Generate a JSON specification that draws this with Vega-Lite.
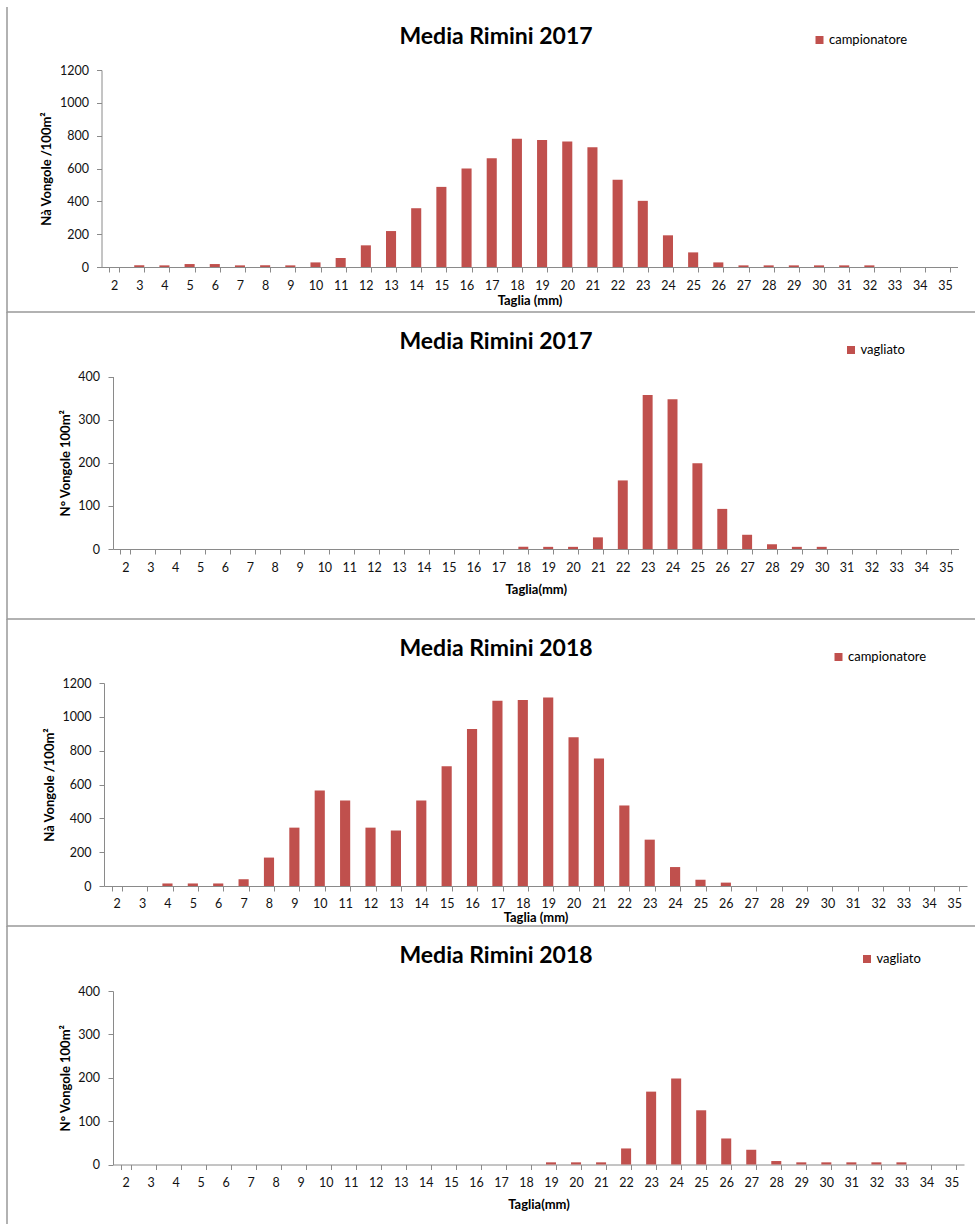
{
  "$schema": "https://vega.github.io/schema/vega-lite/v6.json",
  "padding": {"left": 6, "top": 6, "right": 0, "bottom": 0},
  "background": "white",
  "spacing": 0,
  "bounds": "flush",
  "resolve": {"scale": {"color": "independent", "x": "independent", "y": "independent"}, "legend": {"color": "independent"}},
  "config": {
    "font": "Lato",
    "axis": {
      "domainColor": "#8a8a8a",
      "tickColor": "#8a8a8a",
      "domainWidth": 1,
      "tickWidth": 1,
      "tickSize": 5,
      "grid": false,
      "labelFont": "Lato",
      "labelFontSize": 12.5,
      "labelColor": "#111111",
      "titleFont": "Lato",
      "titleFontSize": 13,
      "titleFontWeight": "bold",
      "titleColor": "#000000"
    },
    "legend": {
      "orient": "none",
      "title": null,
      "padding": 0,
      "symbolType": "square",
      "symbolSize": 64,
      "symbolStrokeWidth": 0,
      "symbolOpacity": 1,
      "labelFont": "Lato",
      "labelFontSize": 13,
      "labelColor": "#000000",
      "labelOffset": 3
    },
    "title": {
      "font": "Lato",
      "fontSize": 23,
      "fontWeight": "bold",
      "color": "#000000",
      "anchor": "middle",
      "frame": "group",
      "dx": 5
    },
    "bar": {"color": "#C0504D"}
  },
  "vconcat": [
    {
      "width": 968,
      "height": 305,
      "view": {"stroke": "#999999", "strokeWidth": 1.5, "strokeDash": [0, 1273, 1400]},
      "title": {"text": "Media Rimini 2017", "offset": -42},
      "data": {"values": [
        {"taglia": 2, "n": 0, "serie": "campionatore"},
        {"taglia": 3, "n": 10, "serie": "campionatore"},
        {"taglia": 4, "n": 10, "serie": "campionatore"},
        {"taglia": 5, "n": 18, "serie": "campionatore"},
        {"taglia": 6, "n": 18, "serie": "campionatore"},
        {"taglia": 7, "n": 10, "serie": "campionatore"},
        {"taglia": 8, "n": 10, "serie": "campionatore"},
        {"taglia": 9, "n": 10, "serie": "campionatore"},
        {"taglia": 10, "n": 28, "serie": "campionatore"},
        {"taglia": 11, "n": 55, "serie": "campionatore"},
        {"taglia": 12, "n": 132, "serie": "campionatore"},
        {"taglia": 13, "n": 219, "serie": "campionatore"},
        {"taglia": 14, "n": 358, "serie": "campionatore"},
        {"taglia": 15, "n": 488, "serie": "campionatore"},
        {"taglia": 16, "n": 600, "serie": "campionatore"},
        {"taglia": 17, "n": 662, "serie": "campionatore"},
        {"taglia": 18, "n": 781, "serie": "campionatore"},
        {"taglia": 19, "n": 773, "serie": "campionatore"},
        {"taglia": 20, "n": 765, "serie": "campionatore"},
        {"taglia": 21, "n": 730, "serie": "campionatore"},
        {"taglia": 22, "n": 531, "serie": "campionatore"},
        {"taglia": 23, "n": 403, "serie": "campionatore"},
        {"taglia": 24, "n": 193, "serie": "campionatore"},
        {"taglia": 25, "n": 89, "serie": "campionatore"},
        {"taglia": 26, "n": 28, "serie": "campionatore"},
        {"taglia": 27, "n": 10, "serie": "campionatore"},
        {"taglia": 28, "n": 10, "serie": "campionatore"},
        {"taglia": 29, "n": 10, "serie": "campionatore"},
        {"taglia": 30, "n": 10, "serie": "campionatore"},
        {"taglia": 31, "n": 10, "serie": "campionatore"},
        {"taglia": 32, "n": 10, "serie": "campionatore"},
        {"taglia": 33, "n": 0, "serie": "campionatore"},
        {"taglia": 34, "n": 0, "serie": "campionatore"},
        {"taglia": 35, "n": 0, "serie": "campionatore"}
      ]},
      "mark": {"type": "bar"},
      "encoding": {
        "x": {
          "field": "taglia", "type": "ordinal",
          "scale": {"range": [94.5, 950.5], "paddingInner": 0.6, "paddingOuter": 0.3},
          "axis": {"title": "Taglia (mm)", "labelAngle": 0, "tickBand": "extent", "offset": -45, "labelPadding": 7, "titlePadding": 3}
        },
        "y": {
          "field": "n", "type": "quantitative",
          "scale": {"domain": [0, 1200], "range": [260, 63], "nice": false},
          "axis": {"title": "Nà Vongole /100m²", "values": [0, 200, 400, 600, 800, 1000, 1200], "format": "d", "offset": -94.5, "labelPadding": 8, "titlePadding": 6.5}
        },
        "color": {
          "field": "serie", "type": "nominal",
          "scale": {"range": ["#C0504D"]},
          "legend": {"legendX": 806, "legendY": 26.5}
        }
      }
    },
    {
      "width": 968,
      "height": 307,
      "view": {"stroke": "#999999", "strokeWidth": 1.5, "strokeDash": [0, 1275, 1400]},
      "title": {"text": "Media Rimini 2017", "offset": -42},
      "data": {"values": [
        {"taglia": 2, "n": 0, "serie": "vagliato"},
        {"taglia": 3, "n": 0, "serie": "vagliato"},
        {"taglia": 4, "n": 0, "serie": "vagliato"},
        {"taglia": 5, "n": 0, "serie": "vagliato"},
        {"taglia": 6, "n": 0, "serie": "vagliato"},
        {"taglia": 7, "n": 0, "serie": "vagliato"},
        {"taglia": 8, "n": 0, "serie": "vagliato"},
        {"taglia": 9, "n": 0, "serie": "vagliato"},
        {"taglia": 10, "n": 0, "serie": "vagliato"},
        {"taglia": 11, "n": 0, "serie": "vagliato"},
        {"taglia": 12, "n": 0, "serie": "vagliato"},
        {"taglia": 13, "n": 0, "serie": "vagliato"},
        {"taglia": 14, "n": 0, "serie": "vagliato"},
        {"taglia": 15, "n": 0, "serie": "vagliato"},
        {"taglia": 16, "n": 0, "serie": "vagliato"},
        {"taglia": 17, "n": 0, "serie": "vagliato"},
        {"taglia": 18, "n": 5, "serie": "vagliato"},
        {"taglia": 19, "n": 5, "serie": "vagliato"},
        {"taglia": 20, "n": 5, "serie": "vagliato"},
        {"taglia": 21, "n": 27, "serie": "vagliato"},
        {"taglia": 22, "n": 159, "serie": "vagliato"},
        {"taglia": 23, "n": 357, "serie": "vagliato"},
        {"taglia": 24, "n": 347, "serie": "vagliato"},
        {"taglia": 25, "n": 199, "serie": "vagliato"},
        {"taglia": 26, "n": 93, "serie": "vagliato"},
        {"taglia": 27, "n": 33, "serie": "vagliato"},
        {"taglia": 28, "n": 11, "serie": "vagliato"},
        {"taglia": 29, "n": 5, "serie": "vagliato"},
        {"taglia": 30, "n": 5, "serie": "vagliato"},
        {"taglia": 31, "n": 0, "serie": "vagliato"},
        {"taglia": 32, "n": 0, "serie": "vagliato"},
        {"taglia": 33, "n": 0, "serie": "vagliato"},
        {"taglia": 34, "n": 0, "serie": "vagliato"},
        {"taglia": 35, "n": 0, "serie": "vagliato"}
      ]},
      "mark": {"type": "bar"},
      "encoding": {
        "x": {
          "field": "taglia", "type": "ordinal",
          "scale": {"range": [106, 951.5], "paddingInner": 0.6, "paddingOuter": 0.3},
          "axis": {"title": "Taglia(mm)", "labelAngle": 0, "tickBand": "extent", "offset": -70, "labelPadding": 7.5, "titlePadding": 9}
        },
        "y": {
          "field": "n", "type": "quantitative",
          "scale": {"domain": [0, 400], "range": [237, 64.5], "nice": false},
          "axis": {"title": "N° Vongole 100m²", "values": [0, 100, 200, 300, 400], "format": "d", "offset": -106, "labelPadding": 8.5, "titlePadding": 5.5}
        },
        "color": {
          "field": "serie", "type": "nominal",
          "scale": {"range": ["#C0504D"]},
          "legend": {"legendX": 837.5, "legendY": 31.5}
        }
      }
    },
    {
      "width": 968,
      "height": 307,
      "view": {"stroke": "#999999", "strokeWidth": 1.5, "strokeDash": [0, 1275, 1400]},
      "title": {"text": "Media Rimini 2018", "offset": -42},
      "data": {"values": [
        {"taglia": 2, "n": 0, "serie": "campionatore"},
        {"taglia": 3, "n": 0, "serie": "campionatore"},
        {"taglia": 4, "n": 15, "serie": "campionatore"},
        {"taglia": 5, "n": 15, "serie": "campionatore"},
        {"taglia": 6, "n": 15, "serie": "campionatore"},
        {"taglia": 7, "n": 40, "serie": "campionatore"},
        {"taglia": 8, "n": 168, "serie": "campionatore"},
        {"taglia": 9, "n": 345, "serie": "campionatore"},
        {"taglia": 10, "n": 564, "serie": "campionatore"},
        {"taglia": 11, "n": 505, "serie": "campionatore"},
        {"taglia": 12, "n": 345, "serie": "campionatore"},
        {"taglia": 13, "n": 328, "serie": "campionatore"},
        {"taglia": 14, "n": 505, "serie": "campionatore"},
        {"taglia": 15, "n": 708, "serie": "campionatore"},
        {"taglia": 16, "n": 928, "serie": "campionatore"},
        {"taglia": 17, "n": 1095, "serie": "campionatore"},
        {"taglia": 18, "n": 1100, "serie": "campionatore"},
        {"taglia": 19, "n": 1115, "serie": "campionatore"},
        {"taglia": 20, "n": 880, "serie": "campionatore"},
        {"taglia": 21, "n": 754, "serie": "campionatore"},
        {"taglia": 22, "n": 476, "serie": "campionatore"},
        {"taglia": 23, "n": 274, "serie": "campionatore"},
        {"taglia": 24, "n": 112, "serie": "campionatore"},
        {"taglia": 25, "n": 37, "serie": "campionatore"},
        {"taglia": 26, "n": 20, "serie": "campionatore"},
        {"taglia": 27, "n": 0, "serie": "campionatore"},
        {"taglia": 28, "n": 0, "serie": "campionatore"},
        {"taglia": 29, "n": 0, "serie": "campionatore"},
        {"taglia": 30, "n": 0, "serie": "campionatore"},
        {"taglia": 31, "n": 0, "serie": "campionatore"},
        {"taglia": 32, "n": 0, "serie": "campionatore"},
        {"taglia": 33, "n": 0, "serie": "campionatore"},
        {"taglia": 34, "n": 0, "serie": "campionatore"},
        {"taglia": 35, "n": 0, "serie": "campionatore"}
      ]},
      "mark": {"type": "bar"},
      "encoding": {
        "x": {
          "field": "taglia", "type": "ordinal",
          "scale": {"range": [97, 960], "paddingInner": 0.6, "paddingOuter": 0.3},
          "axis": {"title": "Taglia (mm)", "labelAngle": 0, "tickBand": "extent", "offset": -40, "labelPadding": 6, "titlePadding": 1.5}
        },
        "y": {
          "field": "n", "type": "quantitative",
          "scale": {"domain": [0, 1200], "range": [267, 64], "nice": false},
          "axis": {"title": "Nà Vongole /100m²", "values": [0, 200, 400, 600, 800, 1000, 1200], "format": "d", "offset": -97, "labelPadding": 8, "titlePadding": 5.5}
        },
        "color": {
          "field": "serie", "type": "nominal",
          "scale": {"range": ["#C0504D"]},
          "legend": {"legendX": 825, "legendY": 31.5}
        }
      }
    },
    {
      "width": 968,
      "height": 298,
      "view": {"stroke": "#999999", "strokeWidth": 1.5, "strokeDash": [0, 2234, 400]},
      "title": {"text": "Media Rimini 2018", "offset": -42},
      "data": {"values": [
        {"taglia": 2, "n": 0, "serie": "vagliato"},
        {"taglia": 3, "n": 0, "serie": "vagliato"},
        {"taglia": 4, "n": 0, "serie": "vagliato"},
        {"taglia": 5, "n": 0, "serie": "vagliato"},
        {"taglia": 6, "n": 0, "serie": "vagliato"},
        {"taglia": 7, "n": 0, "serie": "vagliato"},
        {"taglia": 8, "n": 0, "serie": "vagliato"},
        {"taglia": 9, "n": 0, "serie": "vagliato"},
        {"taglia": 10, "n": 0, "serie": "vagliato"},
        {"taglia": 11, "n": 0, "serie": "vagliato"},
        {"taglia": 12, "n": 0, "serie": "vagliato"},
        {"taglia": 13, "n": 0, "serie": "vagliato"},
        {"taglia": 14, "n": 0, "serie": "vagliato"},
        {"taglia": 15, "n": 0, "serie": "vagliato"},
        {"taglia": 16, "n": 0, "serie": "vagliato"},
        {"taglia": 17, "n": 0, "serie": "vagliato"},
        {"taglia": 18, "n": 0, "serie": "vagliato"},
        {"taglia": 19, "n": 5, "serie": "vagliato"},
        {"taglia": 20, "n": 5, "serie": "vagliato"},
        {"taglia": 21, "n": 5, "serie": "vagliato"},
        {"taglia": 22, "n": 37, "serie": "vagliato"},
        {"taglia": 23, "n": 168, "serie": "vagliato"},
        {"taglia": 24, "n": 198, "serie": "vagliato"},
        {"taglia": 25, "n": 125, "serie": "vagliato"},
        {"taglia": 26, "n": 60, "serie": "vagliato"},
        {"taglia": 27, "n": 34, "serie": "vagliato"},
        {"taglia": 28, "n": 8, "serie": "vagliato"},
        {"taglia": 29, "n": 5, "serie": "vagliato"},
        {"taglia": 30, "n": 5, "serie": "vagliato"},
        {"taglia": 31, "n": 5, "serie": "vagliato"},
        {"taglia": 32, "n": 5, "serie": "vagliato"},
        {"taglia": 33, "n": 5, "serie": "vagliato"},
        {"taglia": 34, "n": 0, "serie": "vagliato"},
        {"taglia": 35, "n": 0, "serie": "vagliato"}
      ]},
      "mark": {"type": "bar"},
      "encoding": {
        "x": {
          "field": "taglia", "type": "ordinal",
          "scale": {"range": [106, 957], "paddingInner": 0.6, "paddingOuter": 0.3},
          "axis": {"title": "Taglia(mm)", "labelAngle": 0, "tickBand": "extent", "offset": -59.5, "labelPadding": 7, "titlePadding": 9.5}
        },
        "y": {
          "field": "n", "type": "quantitative",
          "scale": {"domain": [0, 400], "range": [238.5, 65], "nice": false},
          "axis": {"title": "N° Vongole 100m²", "values": [0, 100, 200, 300, 400], "format": "d", "offset": -106, "labelPadding": 8.5, "titlePadding": 5.5}
        },
        "color": {
          "field": "serie", "type": "nominal",
          "scale": {"range": ["#C0504D"]},
          "legend": {"legendX": 853.5, "legendY": 26.5}
        }
      }
    }
  ]
}
